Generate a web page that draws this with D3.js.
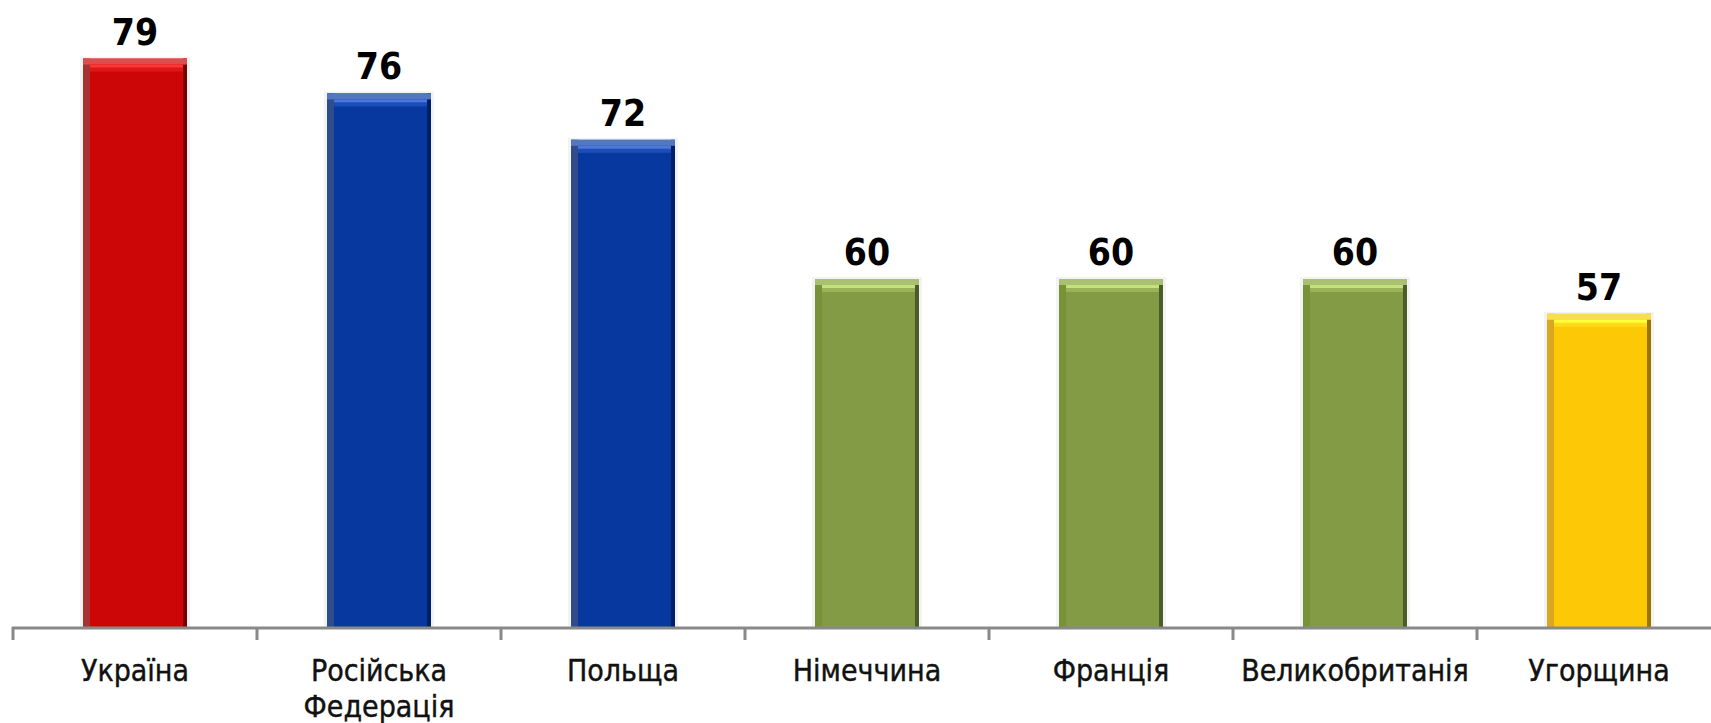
<!DOCTYPE html>
<html>
<head>
<meta charset="utf-8">
<script src="https://cdn.jsdelivr.net/npm/d3@7"></script>
<style>
  html, body { margin: 0; padding: 0; background: #fff; }
  svg { display: block; }
</style>
</head>
<body>
<svg id="chart" width="1711" height="723"></svg>
<script>
// data
var categories = ["Україна", "Російська Федерація", "Польща", "Німеччина", "Франція", "Великобританія", "Угорщина"];
var values = [79, 76, 72, 60, 60, 60, 57];
var yDomain = [30, 80];

// bar colours: main, left edge, right edge, top band, top highlight
var palette = {
    red:    ["#cc0606", "#a83232", "#7a0000", "#e04c4c", "#ff3636"],
    blue:   ["#0638a0", "#2f4d8a", "#001f66", "#5478c0", "#4a78e0"],
    green:  ["#839b45", "#789238", "#4b5c28", "#a9bf72", "#c6e07c"],
    yellow: ["#fdc906", "#d8a820", "#9a7400", "#f6de4c", "#ffff3c"]
};
var barColors = ["red", "blue", "blue", "green", "green", "green", "yellow"];

var svg = d3.select("#chart");

var baseY = 627;
var xScale = d3.scaleBand()
    .domain(categories)
    .range([13, 13 + 7 * 244])
    .padding(0);

var yScale = d3.scaleLinear()
    .domain(yDomain)
    .range([baseY, 47]);

var barW = xScale.bandwidth() * 0.426;

var bars = svg.append("g").selectAll("g")
    .data(categories)
    .enter().append("g")
    .attr("transform", function (d) {
        return "translate(" + (xScale(d) + xScale.bandwidth() / 2 - barW / 2) + ",0)";
    });

// faint halo
bars.append("rect")
    .attr("x", -3)
    .attr("y", function (d, i) { return yScale(values[i]) - 2; })
    .attr("width", barW + 6)
    .attr("height", function (d, i) { return baseY - yScale(values[i]) + 2; })
    .style("fill", "#f3f3f3");

bars.append("rect")
    .attr("x", 0)
    .attr("y", function (d, i) { return yScale(values[i]); })
    .attr("width", barW)
    .attr("height", function (d, i) { return baseY - yScale(values[i]); })
    .style("fill", function (d, i) { return palette[barColors[i]][0]; });

// left edge
bars.append("rect")
    .attr("x", 0)
    .attr("y", function (d, i) { return yScale(values[i]); })
    .attr("width", 7)
    .attr("height", function (d, i) { return baseY - yScale(values[i]); })
    .style("fill", function (d, i) { return palette[barColors[i]][1]; });

// right edge
bars.append("rect")
    .attr("x", barW - 4)
    .attr("y", function (d, i) { return yScale(values[i]); })
    .attr("width", 4)
    .attr("height", function (d, i) { return baseY - yScale(values[i]); })
    .style("fill", function (d, i) { return palette[barColors[i]][2]; });

// top band
bars.append("rect")
    .attr("x", 0)
    .attr("y", function (d, i) { return yScale(values[i]); })
    .attr("width", barW)
    .attr("height", 6)
    .style("fill", function (d, i) { return palette[barColors[i]][3]; });

// highlight line under the top band
bars.append("rect")
    .attr("x", 7)
    .attr("y", function (d, i) { return yScale(values[i]) + 6; })
    .attr("width", barW - 11)
    .attr("height", 3)
    .style("fill", function (d, i) { return palette[barColors[i]][4]; });

bars.append("rect")
    .attr("x", 7)
    .attr("y", function (d, i) { return yScale(values[i]) + 9; })
    .attr("width", barW - 11)
    .attr("height", 4)
    .style("fill", function (d, i) { return palette[barColors[i]][4]; })
    .style("opacity", 0.35);

// value labels
svg.append("g").selectAll("text")
    .data(categories)
    .enter().append("text")
    .attr("x", function (d) { return xScale(d) + xScale.bandwidth() / 2; })
    .attr("y", function (d, i) { return yScale(values[i]) - 14; })
    .attr("text-anchor", "middle")
    .style("font-family", "'DejaVu Sans Condensed', 'DejaVu Sans', sans-serif")
    .style("font-weight", "bold")
    .style("font-size", "37px")
    .style("fill", "#000")
    .text(function (d, i) { return values[i]; });

// axis line and boundary ticks
svg.append("line")
    .attr("x1", 12).attr("x2", 1711)
    .attr("y1", baseY + 1).attr("y2", baseY + 1)
    .style("stroke", "#898989")
    .style("stroke-width", 3);

svg.append("g").selectAll("line")
    .data(categories)
    .enter().append("line")
    .attr("x1", function (d) { return xScale(d); })
    .attr("x2", function (d) { return xScale(d); })
    .attr("y1", baseY)
    .attr("y2", baseY + 13)
    .style("stroke", "#898989")
    .style("stroke-width", 3);

// category labels via axis
var xAxis = d3.axisBottom(xScale).tickSize(0).tickPadding(0);
var axisG = svg.append("g")
    .attr("transform", "translate(0," + baseY + ")")
    .call(xAxis);
axisG.select(".domain").remove();
axisG.selectAll("text").each(function (d) {
    var t = d3.select(this);
    var words = d.split(" ");
    t.text(null)
        .attr("y", 0)
        .attr("dy", null)
        .style("font-family", "'DejaVu Sans Condensed', 'DejaVu Sans', sans-serif")
        .style("font-size", "30px")
        .style("fill", "#111")
        .style("stroke", "#111")
        .style("stroke-width", 0.4);
    words.forEach(function (w, k) {
        t.append("tspan")
            .attr("x", 0)
            .attr("y", 54 + k * 36)
            .text(w);
    });
});
</script>
</body>
</html>
